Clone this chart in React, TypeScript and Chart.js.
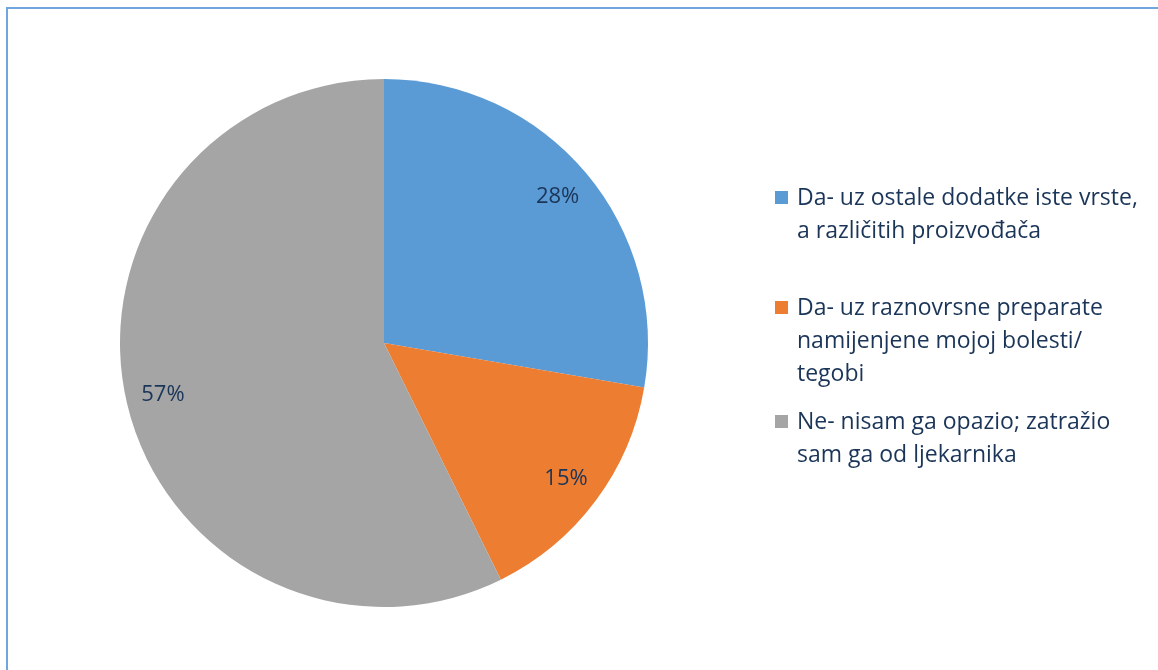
import React, { useEffect, useRef } from "react";
import { Chart, registerables } from "chart.js";

Chart.register(...registerables);

const categories: string[][] = [
  ["Da- uz ostale dodatke iste vrste,", "a različitih proizvođača"],
  ["Da- uz raznovrsne preparate", "namijenjene mojoj bolesti/", "tegobi"],
  ["Ne- nisam ga opazio; zatražio", "sam ga od ljekarnika"],
];
const values: number[] = [27.7, 15.0, 57.3];
const colors: string[] = ["#5B9BD5", "#ED7D31", "#A5A5A5"];

const FONT = "'Open Sans', 'Noto Sans', sans-serif";
const TEXT_COLOR = "#1B3558";

const labelPlugin = {
  id: "pctLabels",
  afterDatasetsDraw(chart: any) {
    const ctx = chart.ctx;
    const meta = chart.getDatasetMeta(0);
    const total = values.reduce((a, b) => a + b, 0);
    ctx.save();
    ctx.font = `22px ${FONT}`;
    ctx.fillStyle = TEXT_COLOR;
    ctx.textAlign = "center";
    ctx.textBaseline = "middle";
    meta.data.forEach((arc: any, i: number) => {
      const p = arc.getProps(["x", "y", "startAngle", "endAngle", "outerRadius"], true);
      const mid = (p.startAngle + p.endAngle) / 2;
      const d = p.outerRadius * 0.86;
      const x = p.x + Math.cos(mid) * d;
      const y = p.y + Math.sin(mid) * d;
      ctx.fillText(Math.round((values[i] / total) * 100) + "%", x, y);
    });
    ctx.restore();
  },
};

const legendPlugin = {
  id: "customLegend",
  afterDraw(chart: any) {
    const ctx = chart.ctx;
    ctx.save();
    ctx.font = `23px ${FONT}`;
    ctx.textBaseline = "middle";
    const x0 = 775;
    const lineH = 33;
    const startYs = [198, 308, 422];
    categories.forEach((lines, i) => {
      const y0 = startYs[i];
      ctx.fillStyle = colors[i];
      ctx.fillRect(x0, y0 - 7, 13, 13);
      ctx.fillStyle = TEXT_COLOR;
      lines.forEach((ln, j) => {
        ctx.fillText(ln, x0 + 22, y0 + j * lineH);
      });
    });
    ctx.restore();
  },
};

export default function App() {
  const ref = useRef<HTMLCanvasElement | null>(null);
  useEffect(() => {
    document.body.style.margin = "0";
    const chart = new Chart(ref.current!, {
      type: "pie",
      data: {
        labels: categories.map((c) => c.join(" ")),
        datasets: [
          {
            data: values,
            backgroundColor: colors,
            borderWidth: 0,
          },
        ],
      },
      options: {
        animation: false,
        responsive: false,
        layout: { padding: { left: 120, top: 79, right: 510, bottom: 63 } },
        plugins: {
          legend: { display: false },
          tooltip: { enabled: false },
          title: { display: false },
        },
      },
      plugins: [labelPlugin, legendPlugin],
    });
    return () => chart.destroy();
  }, []);
  return (
    <div style={{ position: "relative", width: 1158, height: 670, overflow: "hidden", background: "#fff" }}>
      <canvas ref={ref} width={1158} height={670} style={{ position: "absolute", left: 0, top: 0 }} />
      <div
        style={{
          position: "absolute",
          left: 6,
          top: 7,
          width: 1300,
          height: 900,
          border: "2px solid #6FA6DE",
          boxSizing: "border-box",
          pointerEvents: "none",
        }}
      />
    </div>
  );
}
